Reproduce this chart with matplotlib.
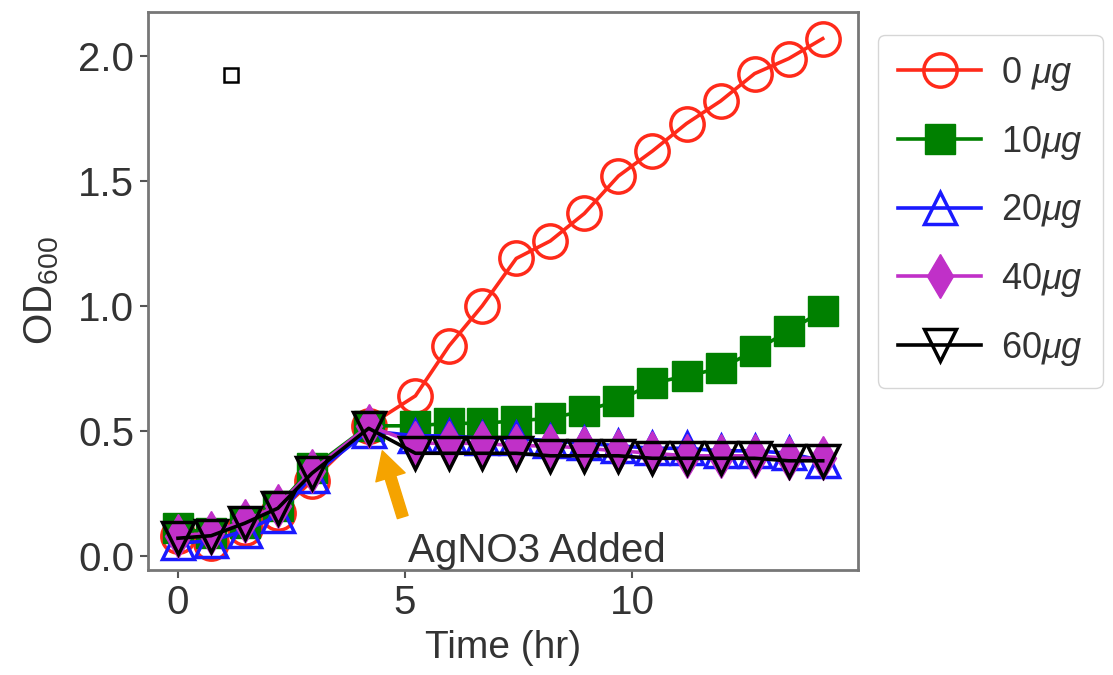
import matplotlib
matplotlib.use("Agg")
import matplotlib.pyplot as plt
import numpy as np

plt.rcParams['font.family'] = ['Liberation Sans', 'DejaVu Sans']
plt.rcParams['mathtext.fontset'] = 'custom'
plt.rcParams['mathtext.rm'] = 'Liberation Sans'
plt.rcParams['mathtext.it'] = 'Liberation Sans:italic'

# sampling times (hr)
time = [0, 0.73, 1.47, 2.2, 2.95, 4.2,
        5.23, 5.97, 6.7, 7.45, 8.2, 8.95, 9.7, 10.45, 11.2, 11.95, 12.7, 13.45, 14.2]

# OD600 for each AgNO3 dose
od_0 = [0.08, 0.05, 0.11, 0.17, 0.30, 0.52,
        0.64, 0.84, 1.00, 1.19, 1.26, 1.37, 1.52, 1.62, 1.73, 1.82, 1.93, 1.99, 2.07]
od_10 = [0.11, 0.09, 0.13, 0.20, 0.35, 0.52,
         0.52, 0.53, 0.53, 0.54, 0.55, 0.58, 0.62, 0.69, 0.72, 0.75, 0.82, 0.90, 0.98]
od_20 = [0.05, 0.06, 0.10, 0.16, 0.32, 0.50,
         0.48, 0.48, 0.47, 0.47, 0.46, 0.45, 0.44, 0.43, 0.43, 0.42, 0.42, 0.41, 0.38]
od_40 = [0.08, 0.09, 0.14, 0.20, 0.34, 0.52,
         0.45, 0.45, 0.45, 0.44, 0.44, 0.43, 0.42, 0.41, 0.40, 0.40, 0.40, 0.39, 0.39]
od_60 = [0.07, 0.08, 0.13, 0.19, 0.33, 0.51,
         0.41, 0.41, 0.41, 0.41, 0.40, 0.40, 0.40, 0.39, 0.39, 0.39, 0.39, 0.38, 0.38]

labels = [r'0 $\mu g$', r'10$\mu g$', r'20$\mu g$', r'40$\mu g$', r'60$\mu g$']

fig = plt.figure(figsize=(11.13, 6.75), dpi=100)
ax = fig.add_axes([0.133, 0.156, 0.638, 0.826])

lw = 2.6
ax.plot(time, od_0, color='#ff2a1a', marker='o', ms=24, mfc='none', mew=2.5, lw=lw, label=labels[0])
ax.plot(time, od_10, color='#008000', marker='s', ms=21, lw=lw, label=labels[1])
ax.plot(time, od_20, color='#1a1aff', marker='^', ms=23, mfc='none', mew=2.5, lw=lw, label=labels[2])
ax.plot(time, od_40, color='#c030c8', marker='d', ms=22, lw=lw, label=labels[3])
ax.plot(time, od_60, color='black', marker='v', ms=23, mfc='none', mew=2.5, lw=lw, label=labels[4])

# stray open square in the upper left
ax.plot([1.17], [1.924], marker='s', ms=10, mfc='none', mec='black', mew=1.8, ls='none')

ax.annotate('', xy=(4.5, 0.42), xytext=(4.95, 0.155),
            arrowprops=dict(facecolor='#f5a300', edgecolor='#f5a300',
                            width=8, headwidth=22, headlength=20))
ax.text(7.91, -0.024, 'AgNO3 Added', fontsize=29, color='#333333',
        ha='center', va='baseline')

ax.set_xlim(-0.66, 14.98)
ax.set_ylim(-0.056, 2.176)
ax.set_xticks([0, 5, 10])
ax.set_yticks([0.0, 0.5, 1.0, 1.5, 2.0])
ax.set_yticklabels(['0.0', '0.5', '1.0', '1.5', '2.0'])
ax.tick_params(labelsize=29, colors='#555555', labelcolor='#333333', length=6, width=1.5, pad=4)
for s in ax.spines.values():
    s.set_color('#777777')
    s.set_linewidth(2)

ax.set_xlabel('Time (hr)', fontsize=28, color='#333333', labelpad=6)
ax.set_ylabel('OD$_{600}$', fontsize=29, color='#333333', labelpad=12)

leg = ax.legend(loc='upper left', bbox_to_anchor=(0.789, 0.948), bbox_transform=fig.transFigure,
                borderaxespad=0, fontsize=26, handlelength=2.3,
                handletextpad=0.55, labelspacing=0.85, borderpad=0.55,
                frameon=True, fancybox=True, edgecolor='#cccccc')
for t in leg.get_texts():
    t.set_color('#333333')

fig.savefig('out.png', dpi=100)
